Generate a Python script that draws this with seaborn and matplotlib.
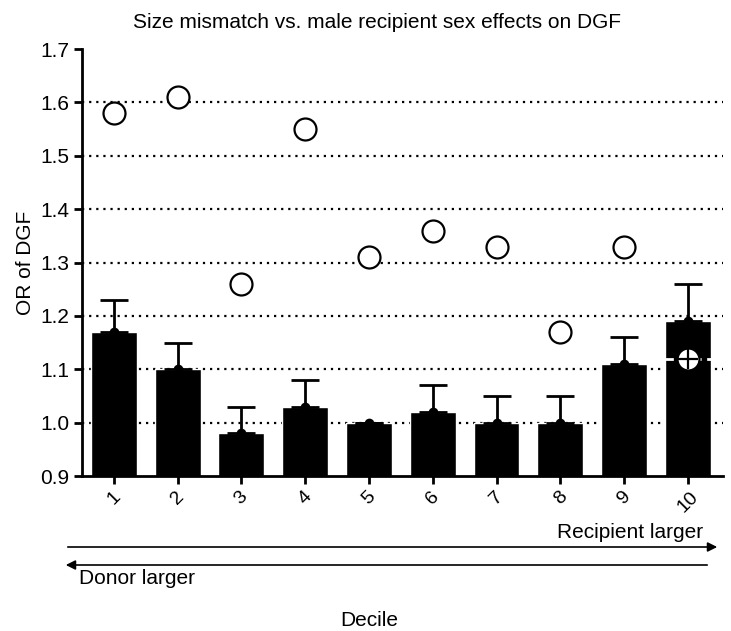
import numpy as np
import pandas as pd
import seaborn as sns
import matplotlib.pyplot as plt

deciles = ['1', '2', '3', '4', '5', '6', '7', '8', '9', '10']
or_bars = [1.17, 1.10, 0.98, 1.03, 1.00, 1.02, 1.00, 1.00, 1.11, 1.19]
or_upper = [1.23, 1.15, 1.03, 1.08, 1.00, 1.07, 1.05, 1.05, 1.16, 1.26]
or_circles = [1.58, 1.61, 1.26, 1.55, 1.31, 1.36, 1.33, 1.17, 1.33, 1.12]

df = pd.DataFrame({'Decile': deciles, 'OR': or_bars, 'Upper': or_upper, 'Circle': or_circles})

sns.set_style('ticks')
plt.rcParams['font.family'] = ['Liberation Sans', 'DejaVu Sans']
plt.rcParams.update({'text.color': 'black', 'axes.labelcolor': 'black',
                     'xtick.color': 'black', 'ytick.color': 'black',
                     'axes.edgecolor': 'black'})

fig = plt.figure(figsize=(7.31, 6.31), dpi=100)
ax = fig.add_axes([0.112, 0.2456, 0.877, 0.6767])

# dotted gridlines behind bars
for y in [1.0, 1.1, 1.2, 1.3, 1.4, 1.5, 1.6]:
    ax.axhline(y, color='black', linestyle=(0, (1, 2.2)), linewidth=1.6, zorder=0)

sns.barplot(data=df, x='Decile', y='OR', color='black', width=0.72,
            saturation=1, ax=ax, zorder=2)

pos = np.arange(len(deciles))
err = np.array(or_upper) - np.array(or_bars)
ax.errorbar(pos, or_bars, yerr=[np.zeros(len(pos)), err], fmt='none',
            ecolor='black', elinewidth=2, capsize=10, capthick=2, zorder=3)
ax.plot(pos, or_bars, 'o', color='black', markersize=6, zorder=3)

# white dashed line marker on last decile
ax.plot([pos[-1] - 0.36, pos[-1] + 0.36], [or_circles[-1]] * 2, color='white',
        linestyle=(0, (3, 2)), linewidth=2, zorder=4)
sns.scatterplot(data=df, x='Decile', y='Circle', s=250, facecolor='white',
                edgecolor='black', linewidth=1.6, ax=ax, zorder=5, legend=False)
ax.plot(pos[-1], or_circles[-1], marker='+', color='black', markersize=15,
        markeredgewidth=1.6, zorder=6)

ax.set_ylim(0.9, 1.7)
ax.set_xlim(-0.5, 9.55)
ax.set_yticks(np.arange(0.9, 1.71, 0.1))
ax.set_yticklabels([f'{v:.1f}' for v in np.arange(0.9, 1.71, 0.1)], fontsize=15)
ax.set_xticks(pos)
ax.set_xticklabels(deciles, rotation=45, fontsize=14)
ax.tick_params(axis='both', width=2, length=6, direction='out', pad=3)
ax.set_xlabel('')
ax.set_ylabel('OR of DGF', fontsize=15, labelpad=4)
for s in ['top', 'right']:
    ax.spines[s].set_visible(False)
for s in ['left', 'bottom']:
    ax.spines[s].set_linewidth(2)

fig.text(377 / 731, 1 - 23 / 631, 'Size mismatch vs. male recipient sex effects on DGF',
         ha='center', va='center', fontsize=15)

# arrows below the axis
W, H = 731, 631
ax.annotate('', xy=(720 / W, 1 - 547 / H), xytext=(65 / W, 1 - 547 / H),
            xycoords='figure fraction', textcoords='figure fraction',
            arrowprops=dict(arrowstyle='-|>', color='black', lw=1.2, mutation_scale=14))
ax.annotate('', xy=(63 / W, 1 - 565 / H), xytext=(710 / W, 1 - 565 / H),
            xycoords='figure fraction', textcoords='figure fraction',
            arrowprops=dict(arrowstyle='-|>', color='black', lw=1.2, mutation_scale=14))
fig.text(703 / W, 1 - 532 / H, 'Recipient larger', ha='right', va='center', fontsize=15)
fig.text(79 / W, 1 - 579 / H, 'Donor larger', ha='left', va='center', fontsize=15)
fig.text(369 / W, 1 - 621 / H, 'Decile', ha='center', va='center', fontsize=15)

fig.savefig('out.png', dpi=100)
